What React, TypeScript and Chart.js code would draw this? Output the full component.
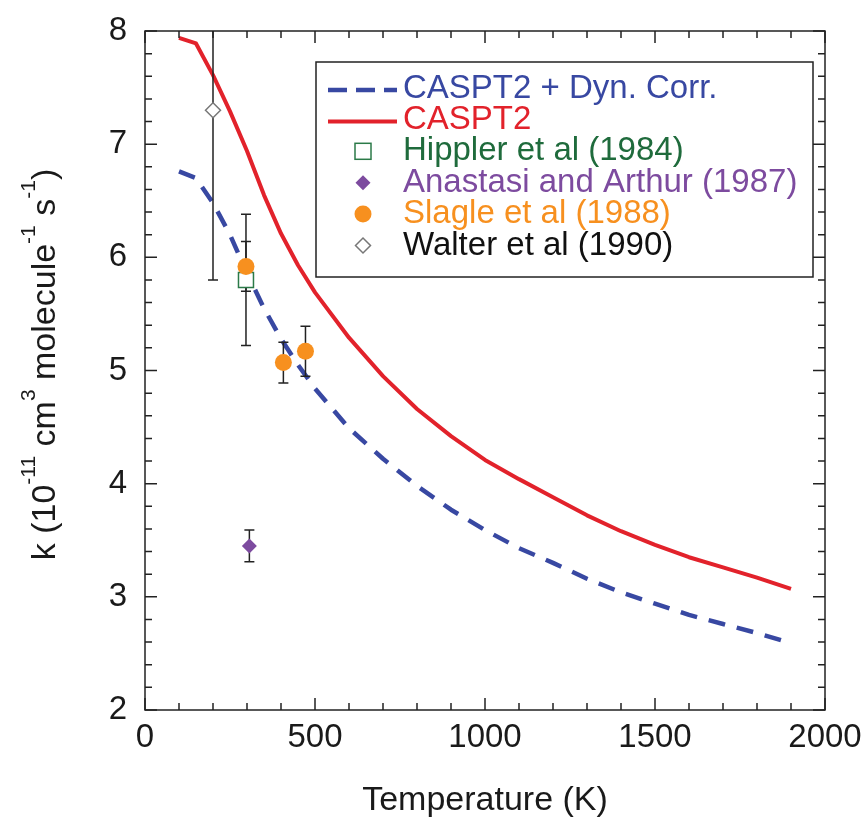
import React, { useEffect, useRef } from "react";
import { Chart, registerables } from "chart.js";

Chart.register(...registerables);

// ---- data ----
const temperatures = [100, 150, 200, 250, 300, 350, 400, 450, 500, 600, 700, 800, 900, 1000, 1100, 1200, 1300, 1400, 1500, 1600, 1700, 1800, 1900];
const caspt2 = [7.94, 7.89, 7.61, 7.29, 6.94, 6.55, 6.21, 5.93, 5.69, 5.29, 4.95, 4.66, 4.42, 4.21, 4.04, 3.88, 3.72, 3.58, 3.46, 3.35, 3.26, 3.17, 3.07];
const caspt2DynCorr = [6.76, 6.7, 6.48, 6.2, 5.86, 5.55, 5.28, 5.05, 4.84, 4.49, 4.22, 3.98, 3.77, 3.59, 3.43, 3.3, 3.16, 3.04, 2.94, 2.84, 2.76, 2.68, 2.59];

const hipplerT = [297];
const hipplerK = [5.8];
const hipplerErr = [0.58];

const anastasiT = [307];
const anastasiK = [3.45];
const anastasiErr = [0.14];

const slagleT = [297, 407, 472];
const slagleK = [5.92, 5.07, 5.17];
const slagleErr = [0.22, 0.18, 0.22];

const walterT = [200];
const walterK = [7.3];
const walterErr = [1.5];

const xTickValues = [0, 500, 1000, 1500, 2000];
const xTickLabels = ["0", "500", "1000", "1500", "2000"];
const yTickValues = [2, 3, 4, 5, 6, 7, 8];
const yTickLabels = ["2", "3", "4", "5", "6", "7", "8"];

const seriesLabels = [
  "CASPT2 + Dyn. Corr.",
  "CASPT2",
  "Hippler et al (1984)",
  "Anastasi and Arthur (1987)",
  "Slagle et al (1988)",
  "Walter et al (1990)",
];
const xTitle = "Temperature (K)";
const yTitleParts: [string, boolean][] = [
  ["k (10", false],
  ["-11", true],
  [" cm", false],
  ["3", true],
  [" molecule", false],
  ["-1", true],
  [" s", false],
  ["-1", true],
  [")", false],
];

// ---- styles ----
const FONT = "'Liberation Sans', Arial, Helvetica, sans-serif";
const BLUE = "#3848a2";
const RED = "#e2222b";
const GREEN = "#2b7a48";
const GREEN_TEXT = "#1f6b3c";
const PURPLE = "#7d4b9f";
const ORANGE = "#f7901f";
const GRAYMK = "#777777";
const INK = "#1a1a1a";

const pts = (xs: number[], ys: number[]) => xs.map((x, i) => ({ x, y: ys[i] }));

const errorBarPlugin = {
  id: "errorBars",
  afterDatasetDraw(chart: any, args: any) {
    if (args.index !== 0) return;
    const { ctx, chartArea: a, scales } = chart;
    const xs = scales.x;
    const ys = scales.y;
    ctx.save();
    ctx.strokeStyle = "#222";
    ctx.lineWidth = 1.5;
    chart.data.datasets.forEach((ds: any) => {
      if (!ds.errors) return;
      ds.data.forEach((p: any, i: number) => {
        const e = ds.errors[i];
        const px = xs.getPixelForValue(p.x);
        const yT = ys.getPixelForValue(p.y + e);
        const yB = ys.getPixelForValue(p.y - e);
        const t = Math.max(yT, a.top);
        const b = Math.min(yB, a.bottom);
        ctx.beginPath();
        ctx.moveTo(px, t);
        ctx.lineTo(px, b);
        if (yT >= a.top) {
          ctx.moveTo(px - 5, yT);
          ctx.lineTo(px + 5, yT);
        }
        if (yB <= a.bottom) {
          ctx.moveTo(px - 5, yB);
          ctx.lineTo(px + 5, yB);
        }
        ctx.stroke();
      });
    });
    ctx.restore();
  },
};

const framePlugin = {
  id: "frame",
  afterDraw(chart: any) {
    const { ctx, chartArea: a, scales } = chart;
    const xs = scales.x;
    const ys = scales.y;
    ctx.save();
    ctx.strokeStyle = "#222";
    ctx.lineWidth = 1.5;
    ctx.beginPath();
    for (let v = 0; v <= 2000; v += 100) {
      const px = xs.getPixelForValue(v);
      const len = v % 500 === 0 ? 12 : 7;
      ctx.moveTo(px, a.bottom);
      ctx.lineTo(px, a.bottom - len);
      ctx.moveTo(px, a.top);
      ctx.lineTo(px, a.top + len);
    }
    for (let k = 0; k <= 30; k++) {
      const v = 2 + k * 0.2;
      const py = ys.getPixelForValue(v);
      const len = k % 5 === 0 ? 12 : 7;
      ctx.moveTo(a.left, py);
      ctx.lineTo(a.left + len, py);
      ctx.moveTo(a.right, py);
      ctx.lineTo(a.right - len, py);
    }
    ctx.stroke();
    ctx.strokeRect(a.left, a.top, a.right - a.left, a.bottom - a.top);
    ctx.restore();
  },
};

function yTitleWidths(ctx: CanvasRenderingContext2D) {
  return yTitleParts.map(([txt, sup]) => {
    ctx.font = sup ? `21px ${FONT}` : `34px ${FONT}`;
    return ctx.measureText(txt).width;
  });
}

const yTitlePlugin = {
  id: "yTitle",
  afterDraw(chart: any) {
    const { ctx, chartArea: a } = chart;
    ctx.save();
    ctx.translate(55, (a.top + a.bottom) / 2 - 6);
    ctx.rotate(-Math.PI / 2);
    ctx.fillStyle = INK;
    ctx.textBaseline = "alphabetic";
    ctx.textAlign = "left";
    const widths = yTitleWidths(ctx);
    const total = widths.reduce((s, w) => s + w, 0);
    let x = -total / 2;
    yTitleParts.forEach(([txt, sup], i) => {
      ctx.font = sup ? `21px ${FONT}` : `34px ${FONT}`;
      ctx.fillText(txt, x, sup ? -20 : 0);
      x += widths[i];
    });
    ctx.restore();
  },
};

const legendPlugin = {
  id: "customLegend",
  afterDraw(chart: any) {
    const { ctx } = chart;
    const bx = 316, by = 62, bw = 497, bh = 215;
    ctx.save();
    ctx.fillStyle = "#ffffff";
    ctx.fillRect(bx, by, bw, bh);
    ctx.strokeStyle = "#222";
    ctx.lineWidth = 1.5;
    ctx.strokeRect(bx, by, bw, bh);
    const colors = [BLUE, RED, GREEN_TEXT, PURPLE, ORANGE, "#111111"];
    const mx = 363;
    const tx = 403;
    seriesLabels.forEach((lab, i) => {
      const cy = 88.5 + i * 31.4;
      ctx.save();
      if (i === 0) {
        ctx.strokeStyle = BLUE;
        ctx.lineWidth = 4.5;
        ctx.setLineDash([19, 9]);
        ctx.beginPath();
        ctx.moveTo(328, cy + 1.5);
        ctx.lineTo(397, cy + 1.5);
        ctx.stroke();
      } else if (i === 1) {
        ctx.strokeStyle = RED;
        ctx.lineWidth = 4;
        ctx.beginPath();
        ctx.moveTo(328, cy + 1.5);
        ctx.lineTo(397, cy + 1.5);
        ctx.stroke();
      } else if (i === 2) {
        ctx.strokeStyle = GREEN;
        ctx.lineWidth = 1.5;
        ctx.strokeRect(mx - 8, cy - 8, 16, 16);
      } else if (i === 3) {
        ctx.fillStyle = PURPLE;
        ctx.beginPath();
        ctx.moveTo(mx - 7.5, cy);
        ctx.lineTo(mx, cy - 7.5);
        ctx.lineTo(mx + 7.5, cy);
        ctx.lineTo(mx, cy + 7.5);
        ctx.closePath();
        ctx.fill();
      } else if (i === 4) {
        ctx.fillStyle = ORANGE;
        ctx.beginPath();
        ctx.arc(mx, cy, 8.5, 0, Math.PI * 2);
        ctx.fill();
      } else {
        ctx.strokeStyle = GRAYMK;
        ctx.lineWidth = 1.5;
        ctx.beginPath();
        ctx.moveTo(mx - 7.5, cy);
        ctx.lineTo(mx, cy - 7.5);
        ctx.lineTo(mx + 7.5, cy);
        ctx.lineTo(mx, cy + 7.5);
        ctx.closePath();
        ctx.stroke();
      }
      ctx.restore();
      ctx.fillStyle = colors[i];
      ctx.font = `33px ${FONT}`;
      ctx.textBaseline = "middle";
      ctx.textAlign = "left";
      ctx.fillText(lab, tx, cy);
    });
    ctx.restore();
  },
};

export default function App() {
  const ref = useRef<HTMLCanvasElement | null>(null);
  useEffect(() => {
    document.body.style.margin = "0";
    const canvas = ref.current;
    if (!canvas) return;
    const chart = new Chart(canvas, {
      type: "scatter",
      data: {
        datasets: [
          {
            label: seriesLabels[0],
            data: pts(temperatures, caspt2DynCorr),
            showLine: true,
            borderColor: BLUE,
            borderWidth: 4.5,
            borderDash: [17, 12],
            borderCapStyle: "butt",
            borderJoinStyle: "round",
            tension: 0,
            pointRadius: 0,
            fill: false,
            order: 10,
          } as any,
          {
            label: seriesLabels[1],
            data: pts(temperatures, caspt2),
            showLine: true,
            borderColor: RED,
            borderWidth: 4,
            borderJoinStyle: "round",
            tension: 0,
            pointRadius: 0,
            fill: false,
            order: 11,
          } as any,
          {
            label: seriesLabels[2],
            data: pts(hipplerT, hipplerK),
            errors: hipplerErr,
            pointStyle: "rect",
            pointRadius: 10.6,
            pointBorderWidth: 1.5,
            pointBorderColor: GREEN,
            pointBackgroundColor: "#ffffff",
            order: 3,
          } as any,
          {
            label: seriesLabels[3],
            data: pts(anastasiT, anastasiK),
            errors: anastasiErr,
            pointStyle: "rectRot",
            pointRadius: 7.5,
            pointBorderWidth: 0,
            pointBorderColor: PURPLE,
            pointBackgroundColor: PURPLE,
            order: 2,
          } as any,
          {
            label: seriesLabels[4],
            data: pts(slagleT, slagleK),
            errors: slagleErr,
            pointStyle: "circle",
            pointRadius: 8.5,
            pointBorderWidth: 0,
            pointBorderColor: ORANGE,
            pointBackgroundColor: ORANGE,
            order: 1,
          } as any,
          {
            label: seriesLabels[5],
            data: pts(walterT, walterK),
            errors: walterErr,
            pointStyle: "rectRot",
            pointRadius: 7.5,
            pointBorderWidth: 1.5,
            pointBorderColor: GRAYMK,
            pointBackgroundColor: "#ffffff",
            order: 2,
          } as any,
        ],
      },
      options: {
        animation: false,
        responsive: true,
        maintainAspectRatio: false,
        layout: { padding: { left: 0, right: 41, top: 31, bottom: 0 } },
        plugins: {
          legend: { display: false },
          tooltip: { enabled: false },
        },
        scales: {
          x: {
            type: "linear",
            min: 0,
            max: 2000,
            grid: { display: false, drawTicks: false },
            border: { display: false },
            ticks: {
              stepSize: 500,
              padding: 8,
              maxRotation: 0,
              color: INK,
              font: { family: FONT, size: 33 },
              callback: (v: any) => {
                const i = xTickValues.indexOf(Number(v));
                return i >= 0 ? xTickLabels[i] : "";
              },
            },
            title: {
              display: true,
              text: xTitle,
              color: INK,
              font: { family: FONT, size: 34 },
              padding: { top: 0, bottom: 6 },
            },
            afterFit: (s: any) => {
              s.height = 117;
              s.paddingLeft = 0;
              s.paddingRight = 0;
            },
          },
          y: {
            type: "linear",
            min: 2,
            max: 8,
            grid: { display: false, drawTicks: false },
            border: { display: false },
            ticks: {
              stepSize: 1,
              padding: 18,
              color: INK,
              font: { family: FONT, size: 33 },
              callback: (v: any) => {
                const i = yTickValues.indexOf(Number(v));
                return i >= 0 ? yTickLabels[i] : "";
              },
            },
            afterFit: (s: any) => {
              s.width = 145;
              s.paddingTop = 0;
              s.paddingBottom = 0;
            },
          },
        },
      },
      plugins: [errorBarPlugin, framePlugin, yTitlePlugin, legendPlugin],
    });
    return () => chart.destroy();
  }, []);
  return (
    <div style={{ width: 866, height: 827, position: "relative" }}>
      <canvas ref={ref} />
    </div>
  );
}
